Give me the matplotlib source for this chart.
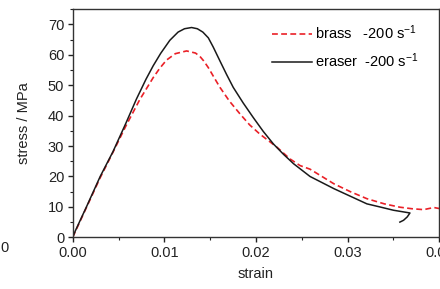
import matplotlib
matplotlib.use("Agg")
import matplotlib.pyplot as plt
from matplotlib import font_manager
from matplotlib.ticker import MultipleLocator, FuncFormatter

brass_strain = [0.0, 0.0015, 0.003, 0.0044, 0.0058, 0.00732, 0.00878, 0.0095, 0.01024, 0.0112, 0.01243,
                0.0134, 0.01388, 0.0143, 0.0148, 0.0154, 0.01607, 0.0171, 0.01825, 0.0193, 0.0204, 0.0223,
                0.0237, 0.0248, 0.0259, 0.0285, 0.0303, 0.0321, 0.0340, 0.0357, 0.0370, 0.0383,
                0.0394, 0.0401]
brass_stress = [0.0, 9.8, 19.6, 28.0, 36.6, 45.3, 52.5, 55.6, 58.3, 60.4, 61.3,
                60.6, 59.5, 58.0, 55.8, 52.7, 49.3, 44.8, 40.6, 37.0, 34.0, 29.6,
                25.8, 23.6, 22.4, 17.6, 15.0, 12.7, 11.0, 9.9, 9.4, 9.1,
                9.8, 9.4]

eraser_strain = [0.0, 0.0003, 0.0015, 0.003, 0.0044, 0.0058, 0.00696, 0.0080, 0.00878, 0.0096, 0.0106,
                 0.0115, 0.0122, 0.01297, 0.0136, 0.0142, 0.0148, 0.01533, 0.0161, 0.0168, 0.01752,
                 0.0186, 0.0197, 0.0208, 0.0219, 0.0230, 0.0241, 0.0259, 0.0285, 0.0303, 0.0321,
                 0.0335, 0.0350, 0.0360, 0.0368, 0.0365, 0.0361, 0.0357]
eraser_stress = [0.0, 2.2, 10.0, 20.0, 28.2, 37.5, 45.5, 52.0, 56.4, 60.5, 64.8,
                 67.5, 68.6, 69.0, 68.6, 67.5, 65.6, 62.6, 57.8, 53.5, 49.3,
                 44.2, 39.4, 34.8, 30.7, 27.3, 24.2, 20.0, 16.0, 13.5, 11.0,
                 10.0, 8.9, 8.4, 8.0, 6.7, 5.6, 5.0]

try:
    font_manager.findfont('Liberation Sans Narrow', fallback_to_default=False)
    fam = ['Liberation Sans Narrow', 'DejaVu Sans']
    fs = 12
except Exception:
    fam = ['Liberation Sans', 'DejaVu Sans']
    fs = 10.5
plt.rcParams['font.family'] = fam
plt.rcParams['mathtext.fontset'] = 'custom'
plt.rcParams['mathtext.rm'] = fam[0]
plt.rcParams['mathtext.it'] = fam[0]

fig = plt.figure(figsize=(4.4, 2.89), dpi=100)
ax = fig.add_axes([0.1652, 0.1789, 0.8332, 0.789])

ax.plot(brass_strain, brass_stress, color='#ea2027', linestyle=(0, (3.5, 2.0)), lw=1.2,
        label='brass   -200 s$^{-1}$')
ax.plot(eraser_strain, eraser_stress, color='#1a1a1a', lw=1.1,
        label='eraser  -200 s$^{-1}$')

ax.set_xlim(0, 0.04)
ax.set_ylim(0, 75)
ax.xaxis.set_major_locator(MultipleLocator(0.01))
ax.xaxis.set_minor_locator(MultipleLocator(0.005))
ax.yaxis.set_major_locator(MultipleLocator(10))
ax.yaxis.set_minor_locator(MultipleLocator(5))
ax.xaxis.set_major_formatter(FuncFormatter(lambda v, p: f"{v:.2f}"))
ax.tick_params(which='major', direction='out', length=3.6, width=1, labelsize=fs,
               colors='#222222', pad=2.5)
ax.tick_params(which='minor', direction='out', length=2.0, width=0.8, colors='#222222')
for s in ax.spines.values():
    s.set_linewidth(1.0)
    s.set_color('#333333')

ax.set_xlabel('strain', fontsize=fs, labelpad=5, color='#222222')
ax.set_ylabel('stress / MPa', fontsize=fs, labelpad=12, color='#222222')

leg = ax.legend(loc='upper right', frameon=False, fontsize=fs, handlelength=2.75,
                handletextpad=0.25, labelspacing=0.65, borderaxespad=0.0,
                bbox_to_anchor=(0.96, 0.965))

fig.text(0.0, 0.143, '0', fontsize=fs, ha='left', va='center', color='#222222')

fig.savefig('out.png', dpi=100)
